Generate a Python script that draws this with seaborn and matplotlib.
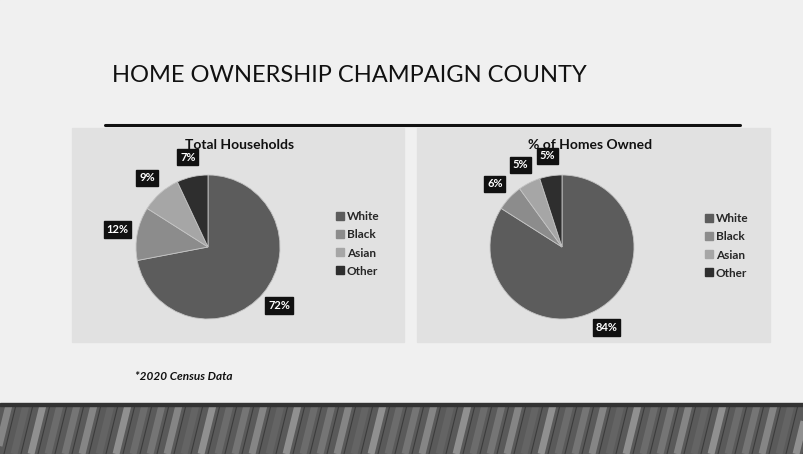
import numpy as np
import matplotlib
matplotlib.use("Agg")
import matplotlib.pyplot as plt
from matplotlib.patches import Rectangle
from matplotlib.lines import Line2D
import seaborn as sns

# ---- data ----
categories = ["White", "Black", "Asian", "Other"]
total_households = [72, 12, 9, 7]
homes_owned = [84, 6, 5, 5]
chart_titles = ["Total Households", "% of Homes Owned"]
main_title = "HOME OWNERSHIP CHAMPAIGN COUNTY"
footnote = "*2020 Census Data"
slice_colors = ["#5c5c5c", "#8c8c8c", "#a6a6a6", "#2e2e2e"]

sns.set_theme(style="white")
plt.rcParams["font.family"] = ["Lato", "DejaVu Sans"]

W, H = 804, 454
fig = plt.figure(figsize=(W / 100, H / 100), dpi=100)
fig.patch.set_facecolor("#eeeeee")

def box(x0, y0, x1, y1):
    """pixel box (top-left origin) -> figure fraction rect"""
    return [x0 / W, 1 - y1 / H, (x1 - x0) / W, (y1 - y0) / H]

# background slide
bg = fig.add_axes([0, 0, 1, 1], zorder=-10)
bg.set_xlim(0, W); bg.set_ylim(H, 0); bg.axis("off")
bg.add_patch(Rectangle((0, 0), W, 405, color="#f0f0f0", zorder=0))
# chart panels
bg.add_patch(Rectangle((72, 128), 332, 214, color="#e1e1e1", zorder=1))
bg.add_patch(Rectangle((417, 128), 353, 214, color="#e1e1e1", zorder=1))
# title rule
bg.plot([105, 740], [125, 125], color="#111111", lw=2.2, zorder=2)
# wooden floor
bg.add_patch(Rectangle((0, 405), W, H - 405, color="#5a5a5a", zorder=1))
for i, x in enumerate(range(-20, W + 40, 17)):
    shade = ["#7a7a7a", "#8d8d8d", "#666666", "#9a9a9a", "#707070"][i % 5]
    bg.plot([x, x + 12], [H, 405], color=shade, lw=5, alpha=0.85, zorder=2,
            solid_capstyle="butt")
    bg.plot([x + 7, x + 19], [H, 405], color="#3c3c3c", lw=0.8, zorder=3)
bg.add_patch(Rectangle((0, 403), W, 3, color="#333333", zorder=4))

fig.text(112 / W, 1 - 76 / H, main_title, fontsize=17, color="#111111",
         va="center", ha="left")
fig.text(135 / W, 1 - 376 / H, footnote, fontsize=8.5, fontstyle="italic",
         fontweight="bold", color="#111111", va="center", ha="left")

pal = sns.color_palette(slice_colors)
centers = [(208, 247), (562, 247)]
legend_pos = [(329, 244), (698, 246)]
datasets = [total_households, homes_owned]
R = 72

for k, (vals, (cx, cy), ttl, (lx, ly)) in enumerate(zip(datasets, centers, chart_titles, legend_pos)):
    s = 1.5 * R
    ax = fig.add_axes(box(cx - s, cy - s, cx + s, cy + s))
    ax.set_facecolor("none")
    wedges, _, autotexts = ax.pie(
        vals, colors=pal, startangle=90, counterclock=False,
        autopct=lambda p: f"{p:.0f}%", pctdistance=1.28,
        wedgeprops=dict(edgecolor="#c4c4c4", linewidth=0.6),
        textprops=dict(color="white", fontsize=8, fontweight="bold"))
    for t in autotexts:
        t.set_bbox(dict(boxstyle="square,pad=0.25", fc="#111111", ec="#111111"))
    ax.set_xlim(-1.5, 1.5); ax.set_ylim(-1.5, 1.5)
    ax.set_aspect("equal")
    ax.axis("off")
    tx = (cx + 32) if k == 0 else (cx + 28)
    fig.text(tx / W, 1 - 145 / H, ttl, fontsize=10, fontweight="bold",
             color="#111111", ha="center", va="center")
    handles = [Line2D([], [], marker="s", ls="none", color=c, markersize=5.5)
               for c in pal]
    fig.legend(handles, categories, loc="center left",
               bbox_to_anchor=(lx / W, 1 - ly / H), frameon=False,
               handletextpad=0.1, labelspacing=0.6,
               handlelength=1.0, borderaxespad=0, prop=dict(weight="bold", size=8.5))

fig.savefig("out.png", dpi=100)
